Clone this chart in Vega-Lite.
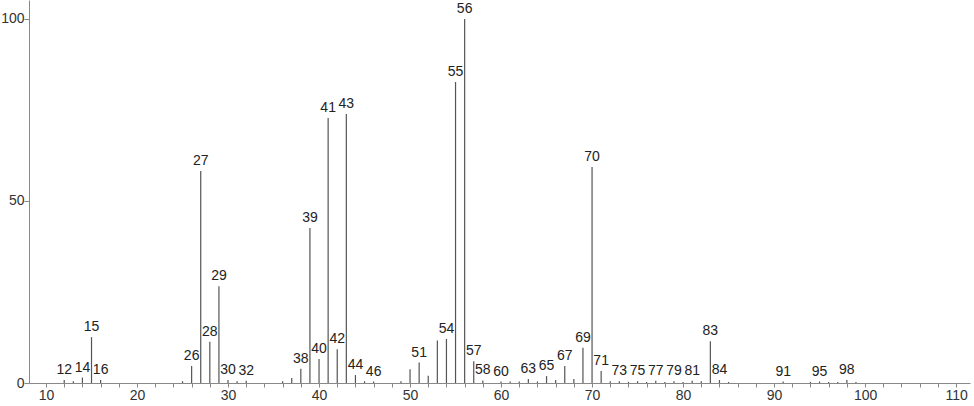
{
  "$schema": "https://vega.github.io/schema/vega-lite/v6.json",
  "width": 941,
  "height": 383,
  "autosize": {"type": "none"},
  "padding": {"left": 29, "top": 0, "right": 4, "bottom": 23},
  "background": "white",
  "config": {"view": {"stroke": null}, "font": "Liberation Sans"},
  "data": {"values": [
    {"mz": 12, "y": 0.8, "label": "12"},
    {"mz": 13, "y": 0.5, "label": ""},
    {"mz": 14, "y": 1.5, "label": "14"},
    {"mz": 15, "y": 12.6, "label": "15"},
    {"mz": 16, "y": 0.8, "label": "16"},
    {"mz": 25, "y": 0.5, "label": ""},
    {"mz": 26, "y": 4.7, "label": "26"},
    {"mz": 27, "y": 58.2, "label": "27"},
    {"mz": 28, "y": 11.3, "label": "28"},
    {"mz": 29, "y": 26.6, "label": "29"},
    {"mz": 30, "y": 0.8, "label": "30"},
    {"mz": 31, "y": 0.5, "label": ""},
    {"mz": 32, "y": 0.6, "label": "32"},
    {"mz": 36, "y": 0.5, "label": ""},
    {"mz": 37, "y": 1.4, "label": ""},
    {"mz": 38, "y": 3.9, "label": "38"},
    {"mz": 39, "y": 42.6, "label": "39"},
    {"mz": 40, "y": 6.6, "label": "40"},
    {"mz": 41, "y": 72.8, "label": "41"},
    {"mz": 42, "y": 9.3, "label": "42"},
    {"mz": 43, "y": 73.9, "label": "43"},
    {"mz": 44, "y": 2.2, "label": "44"},
    {"mz": 45, "y": 0.5, "label": ""},
    {"mz": 46, "y": 0.4, "label": "46"},
    {"mz": 49, "y": 0.5, "label": ""},
    {"mz": 50, "y": 3.8, "label": ""},
    {"mz": 51, "y": 5.6, "label": "51"},
    {"mz": 52, "y": 2.0, "label": ""},
    {"mz": 53, "y": 11.7, "label": ""},
    {"mz": 54, "y": 12.1, "label": "54"},
    {"mz": 55, "y": 82.7, "label": "55"},
    {"mz": 56, "y": 100, "label": "56"},
    {"mz": 57, "y": 6.0, "label": "57"},
    {"mz": 58, "y": 0.7, "label": "58"},
    {"mz": 60, "y": 0.4, "label": "60"},
    {"mz": 61, "y": 0.4, "label": ""},
    {"mz": 62, "y": 0.4, "label": ""},
    {"mz": 63, "y": 1.1, "label": "63"},
    {"mz": 64, "y": 0.4, "label": ""},
    {"mz": 65, "y": 1.9, "label": "65"},
    {"mz": 66, "y": 0.8, "label": ""},
    {"mz": 67, "y": 4.7, "label": "67"},
    {"mz": 68, "y": 1.1, "label": ""},
    {"mz": 69, "y": 9.7, "label": "69"},
    {"mz": 70, "y": 59.3, "label": "70"},
    {"mz": 71, "y": 3.3, "label": "71"},
    {"mz": 72, "y": 0.5, "label": ""},
    {"mz": 73, "y": 0.5, "label": "73"},
    {"mz": 74, "y": 0.3, "label": ""},
    {"mz": 75, "y": 0.5, "label": "75"},
    {"mz": 76, "y": 0.3, "label": ""},
    {"mz": 77, "y": 0.6, "label": "77"},
    {"mz": 78, "y": 0.3, "label": ""},
    {"mz": 79, "y": 0.5, "label": "79"},
    {"mz": 80, "y": 0.3, "label": ""},
    {"mz": 81, "y": 0.6, "label": "81"},
    {"mz": 82, "y": 0.5, "label": ""},
    {"mz": 83, "y": 11.5, "label": "83"},
    {"mz": 84, "y": 0.8, "label": "84"},
    {"mz": 85, "y": 0.3, "label": ""},
    {"mz": 91, "y": 0.4, "label": "91"},
    {"mz": 94, "y": 0.3, "label": ""},
    {"mz": 95, "y": 0.4, "label": "95"},
    {"mz": 96, "y": 0.3, "label": ""},
    {"mz": 97, "y": 0.3, "label": ""},
    {"mz": 98, "y": 0.8, "label": "98"},
    {"mz": 99, "y": 0.3, "label": ""}
  ]},
  "encoding": {
    "x": {"field": "mz", "type": "quantitative",
      "scale": {"domain": [8.13, 111.53], "nice": false, "zero": false},
      "axis": {"title": null, "values": [10,12,14,16,18,20,22,24,26,28,30,32,34,36,38,40,42,44,46,48,50,52,54,56,58,60,62,64,66,68,70,72,74,76,78,80,82,84,86,88,90,92,94,96,98,100,102,104,106,108,110],
        "labelExpr": "datum.value % 10 == 0 ? datum.label : ''",
        "grid": false, "domainColor": "#888888", "tickColor": "#888888", "tickSize": 4,
        "labelColor": "#333333", "labelFontSize": 14, "labelPadding": 1, "labelFlush": false}},
    "y": {"field": "y", "type": "quantitative",
      "scale": {"domain": [0, 105.2], "nice": false},
      "axis": {"title": null, "values": [0, 50, 100], "grid": false,
        "domainColor": "#888888", "tickColor": "#888888", "tickSize": 5,
        "labelColor": "#333333", "labelFontSize": 14, "labelPadding": 0}}
  },
  "layer": [
    {
      "mark": {"type": "rule", "color": "#555555", "strokeWidth": 1.2},
      "encoding": {
        "y2": {"datum": 0}
      }
    },
    {
      "transform": [{"filter": "datum.label != ''"}],
      "mark": {"type": "text", "baseline": "bottom", "dy": -3, "fontSize": 14, "color": "#222222"},
      "encoding": {
        "text": {"field": "label"}
      }
    }
  ]
}
